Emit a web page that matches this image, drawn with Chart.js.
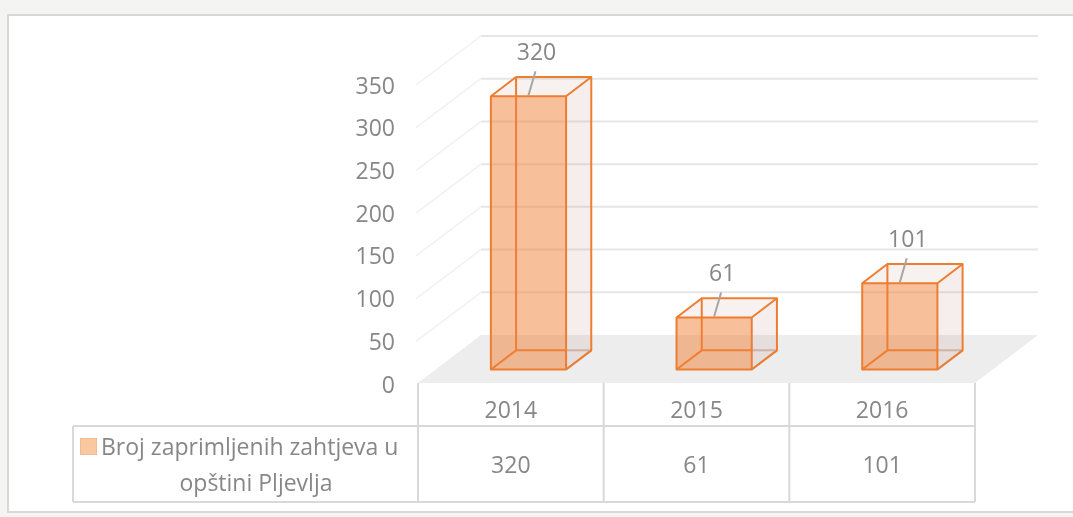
<!DOCTYPE html>
<html>
<head>
<meta charset="utf-8">
<script src="https://cdn.jsdelivr.net/npm/chart.js@4.4.0/dist/chart.umd.min.js"></script>
<style>
  html, body { margin: 0; padding: 0; background: #f4f4f3; }
  canvas { display: block; }
</style>
</head>
<body>
<canvas id="chart" width="1073" height="517"></canvas>
<script>
// Chart data
const years = ['2014', '2015', '2016'];
const requestCounts = [320, 61, 101];
const seriesName = ['Broj zaprimljenih zahtjeva u', 'opštini Pljevlja'];
const yTicksMax = 350;
const yTicksStep = 50;

// 3D look: depth offset of the back wall, and bar depth inside it
const DX = 63, DY = -48;
const BAR_FRONT = 0.28, BAR_BACK = 0.68;
const ORANGE = '#ed7d31';
const TEXT_GRAY = '#878787';
const FONT = '"Open Sans", Lato, sans-serif';
const FONT_SIZE = 23;

// Page background and white panel
const framePlugin = {
  id: 'frame',
  beforeDraw(chart) {
    const ctx = chart.ctx;
    ctx.save();
    ctx.fillStyle = '#f4f4f3';
    ctx.fillRect(0, 0, chart.width, chart.height);
    ctx.fillStyle = '#ffffff';
    ctx.fillRect(8, 15, 1080, 497);
    ctx.strokeStyle = '#d8d8d8';
    ctx.lineWidth = 2;
    ctx.strokeRect(8, 15, 1080, 497);
    ctx.restore();
  }
};

// Floor, side wall, back wall gridlines and value axis labels
const wallsPlugin = {
  id: 'walls',
  beforeDatasetsDraw(chart) {
    const ctx = chart.ctx;
    const area = chart.chartArea;
    const y = chart.scales.y;
    const y0 = y.getPixelForValue(0);
    ctx.save();
    ctx.fillStyle = '#ededed';
    ctx.beginPath();
    ctx.moveTo(area.left, y0);
    ctx.lineTo(area.right, y0);
    ctx.lineTo(area.right + DX, y0 + DY);
    ctx.lineTo(area.left + DX, y0 + DY);
    ctx.closePath();
    ctx.fill();

    ctx.font = FONT_SIZE + 'px ' + FONT;
    ctx.textAlign = 'right';
    ctx.textBaseline = 'middle';
    y.ticks.forEach(t => {
      const yf = y.getPixelForValue(t.value);
      ctx.fillStyle = TEXT_GRAY;
      ctx.fillText(String(t.value), area.left - 23, yf + 3);
      if (t.value === 0) return;
      ctx.strokeStyle = '#f1f1f1';
      ctx.lineWidth = 1.5;
      ctx.beginPath();
      ctx.moveTo(area.left - 2, yf + 1);
      ctx.lineTo(area.left + DX, yf + DY);
      ctx.stroke();
      ctx.strokeStyle = '#e6e6e6';
      ctx.lineWidth = 2;
      ctx.beginPath();
      ctx.moveTo(area.left + DX, yf + DY);
      ctx.lineTo(area.right + DX, yf + DY);
      ctx.stroke();
    });
    ctx.restore();
  }
};

// Transparent 3D boxes built from the bar elements
const boxPlugin = {
  id: 'boxes',
  afterDatasetsDraw(chart) {
    const ctx = chart.ctx;
    const meta = chart.getDatasetMeta(0);
    ctx.save();
    ctx.lineJoin = 'round';
    meta.data.forEach((el, i) => {
      const half = el.width / 2;
      const fx = DX * BAR_FRONT, fy = DY * BAR_FRONT;
      const bx = DX * BAR_BACK, by = DY * BAR_BACK;
      const L = el.x - half, R = el.x + half;
      const top = el.y, base = el.base;
      const F = { l: L + fx, r: R + fx, t: top + fy, b: base + fy };
      const B = { l: L + bx, r: R + bx, t: top + by, b: base + by };

      // side and top faces
      ctx.fillStyle = 'rgba(190,140,125,0.15)';
      ctx.beginPath();
      ctx.moveTo(F.r, F.t); ctx.lineTo(B.r, B.t); ctx.lineTo(B.r, B.b); ctx.lineTo(F.r, F.b);
      ctx.closePath(); ctx.fill();
      ctx.fillStyle = 'rgba(190,140,125,0.12)';
      ctx.beginPath();
      ctx.moveTo(F.l, F.t); ctx.lineTo(B.l, B.t); ctx.lineTo(B.r, B.t); ctx.lineTo(F.r, F.t);
      ctx.closePath(); ctx.fill();

      // hidden edges seen through the side face
      ctx.lineWidth = 2;
      ctx.strokeStyle = 'rgba(200,160,145,0.7)';
      ctx.beginPath();
      ctx.moveTo(F.r, F.b); ctx.lineTo(B.r, B.b);
      ctx.moveTo(F.r, B.b); ctx.lineTo(B.r, B.b);
      ctx.stroke();

      // back edges seen through the front face
      ctx.strokeStyle = ORANGE;
      ctx.beginPath();
      ctx.moveTo(B.l, B.t); ctx.lineTo(B.l, B.b); ctx.lineTo(F.r, B.b);
      ctx.moveTo(F.l, F.b); ctx.lineTo(B.l, B.b);
      ctx.stroke();

      // front face
      ctx.fillStyle = 'rgba(240,130,55,0.5)';
      ctx.fillRect(F.l, F.t, F.r - F.l, F.b - F.t);

      // visible outline
      ctx.strokeStyle = ORANGE;
      ctx.beginPath();
      ctx.rect(F.l, F.t, F.r - F.l, F.b - F.t);
      ctx.moveTo(F.l, F.t); ctx.lineTo(B.l, B.t); ctx.lineTo(B.r, B.t); ctx.lineTo(F.r, F.t);
      ctx.moveTo(B.r, B.t); ctx.lineTo(B.r, B.b); ctx.lineTo(F.r, F.b);
      ctx.stroke();

      // data label with leader line
      const cx = (F.l + F.r) / 2;
      ctx.strokeStyle = '#a6a6a6';
      ctx.lineWidth = 2;
      ctx.beginPath();
      ctx.moveTo(cx + 7, F.t - 25);
      ctx.lineTo(cx, F.t - 1);
      ctx.stroke();
      ctx.fillStyle = TEXT_GRAY;
      ctx.font = FONT_SIZE + 'px ' + FONT;
      ctx.textAlign = 'center';
      ctx.textBaseline = 'middle';
      ctx.fillText(String(requestCounts[i]), cx + 8, F.t - 43);
    });
    ctx.restore();
  }
};

// Data table under the axis
const tablePlugin = {
  id: 'table',
  afterDraw(chart) {
    const ctx = chart.ctx;
    const area = chart.chartArea;
    const x = chart.scales.x;
    const top = area.bottom;
    const mid = 426, bottom = 502, left = 73;
    const colW = (area.right - area.left) / years.length;
    ctx.save();
    ctx.strokeStyle = '#d9d9d9';
    ctx.lineWidth = 2;
    ctx.beginPath();
    for (let i = 0; i <= years.length; i++) {
      const xx = area.left + i * colW;
      ctx.moveTo(xx, top); ctx.lineTo(xx, bottom);
    }
    ctx.moveTo(left, mid); ctx.lineTo(area.right, mid);
    ctx.moveTo(left, bottom); ctx.lineTo(area.right, bottom);
    ctx.moveTo(left, mid); ctx.lineTo(left, bottom);
    ctx.stroke();

    ctx.fillStyle = TEXT_GRAY;
    ctx.font = FONT_SIZE + 'px ' + FONT;
    ctx.textAlign = 'center';
    ctx.textBaseline = 'middle';
    requestCounts.forEach((v, i) => {
      ctx.fillText(String(v), x.getPixelForValue(i), 466);
    });

    // legend key
    ctx.fillStyle = '#f9c8a0';
    ctx.fillRect(80, 438, 17, 17);
    ctx.strokeStyle = '#f5bb8e';
    ctx.lineWidth = 1;
    ctx.strokeRect(80.5, 438.5, 16, 16);
    ctx.fillStyle = TEXT_GRAY;
    ctx.textAlign = 'left';
    ctx.fillText(seriesName[0], 101, 448);
    ctx.textAlign = 'center';
    ctx.fillText(seriesName[1], 256, 484);
    ctx.restore();
  }
};

new Chart(document.getElementById('chart'), {
  type: 'bar',
  data: {
    labels: years,
    datasets: [{
      label: seriesName.join(' '),
      data: requestCounts,
      backgroundColor: 'rgba(0,0,0,0)',
      borderWidth: 0,
      categoryPercentage: 1,
      barPercentage: 0.405
    }]
  },
  options: {
    responsive: false,
    animation: false,
    layout: { padding: { top: 84, right: 98, left: 0, bottom: 0 } },
    plugins: { legend: { display: false }, tooltip: { enabled: false } },
    scales: {
      x: {
        grid: { display: false, drawTicks: false },
        border: { display: false },
        ticks: { color: TEXT_GRAY, font: { family: FONT, size: FONT_SIZE }, padding: 15 },
        afterFit(scale) { scale.height = 134; }
      },
      y: {
        min: 0,
        max: yTicksMax,
        grid: { display: false, drawTicks: false },
        border: { display: false },
        ticks: { stepSize: yTicksStep, display: false },
        afterFit(scale) { scale.width = 418; }
      }
    }
  },
  plugins: [framePlugin, wallsPlugin, boxPlugin, tablePlugin]
});
</script>
</body>
</html>
